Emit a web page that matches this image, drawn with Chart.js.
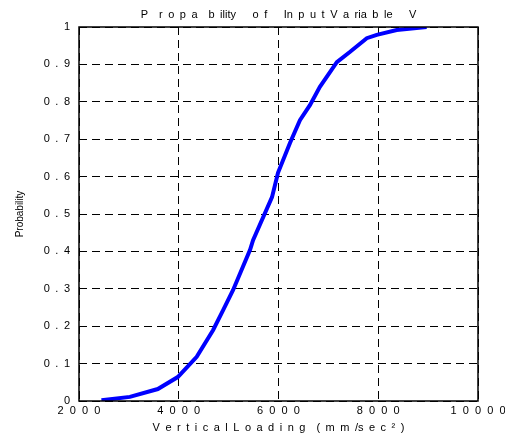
<!DOCTYPE html>
<html>
<head>
<meta charset="utf-8">
<title>Propability of Input Variable V</title>
<script src="https://cdn.jsdelivr.net/npm/chart.js@4/dist/chart.umd.min.js"></script>
<style>
    body { margin: 0; background: #fff; }
    canvas { display: block; }
</style>
</head>
<body>
<canvas id="cdfChart" width="505" height="438"></canvas>
<script>
// Data
const loadingValues = [2450, 3020, 3580, 3980, 4360, 4690, 4890, 5090, 5430, 5490, 5870, 5990, 6230, 6430, 6630, 6830, 7170, 7430, 7770, 7970, 8370, 8970];
const probValues    = [0.002, 0.011, 0.032, 0.064, 0.118, 0.19, 0.243, 0.297, 0.404, 0.43, 0.545, 0.61, 0.69, 0.751, 0.791, 0.84, 0.906, 0.933, 0.97, 0.979, 0.992, 1.0];

const xTicks = [2000, 4000, 6000, 8000, 10000];
const yTicks = [0, 0.1, 0.2, 0.3, 0.4, 0.5, 0.6, 0.7, 0.8, 0.9, 1];

// the original export spreads its letters out; '_' marks a wide gap
const EN = '\u2002';
const gap = s => s.replace(/_/g, EN);
const titleText = gap('P__r_o_p_a__b_ility___o_f___In_p_u_t_V_a_ria_b_le___V');
const xTitleText = gap('V_e_r_t_i_c_a_l_L_o_a_d_i_n_g__(_m_m_/s_e_c_\u00b2_)');

const xLabel = v => String(v).split('').join('  ');
const yLabel = v => {
    if (v === 0) return '0';
    if (v === 1) return '1';
    return '0' + EN + '.' + EN + Math.round(v * 10);
};

// solid frame around the plot area
const frameBox = {
    id: 'frameBox',
    afterDraw(chart) {
        const { ctx, chartArea: a } = chart;
        ctx.save();
        ctx.strokeStyle = '#000';
        ctx.lineWidth = 1.5;
        ctx.strokeRect(a.left, a.top, a.right - a.left, a.bottom - a.top);
        ctx.restore();
    }
};

const points = loadingValues.map((x, i) => ({ x: x, y: probValues[i] }));
const font11 = { family: 'Liberation Sans, Arial', size: 11 };

const ctx = document.getElementById('cdfChart').getContext('2d');
new Chart(ctx, {
    type: 'line',
    data: {
        datasets: [{
            data: points,
            borderColor: '#0000ff',
            borderWidth: 4,
            pointRadius: 0,
            tension: 0,
            fill: false
        }]
    },
    options: {
        responsive: false,
        animation: false,
        layout: { padding: { left: 0, right: 27, top: 0, bottom: 0 } },
        plugins: {
            legend: { display: false },
            tooltip: { enabled: false },
            title: {
                display: true,
                fullSize: false,
                text: titleText,
                color: '#000',
                font: { family: 'Liberation Sans, Arial', size: 11, weight: 'normal' },
                padding: { top: 8, bottom: 5.8 }
            }
        },
        scales: {
            x: {
                type: 'linear',
                min: 2000,
                max: 10000,
                afterBuildTicks: s => { s.ticks = xTicks.map(v => ({ value: v })); },
                afterFit: s => {
                    s.height = 37;
                    // let the last tick label hang past the frame like the original
                    s.paddingLeft = 0;
                    s.paddingRight = 0;
                },
                ticks: {
                    color: '#000',
                    font: font11,
                    padding: 3,
                    maxRotation: 0,
                    autoSkip: false,
                    callback: v => xLabel(v)
                },
                grid: { color: '#000', lineWidth: 1, drawTicks: false },
                border: { display: false, dash: [8, 5] },
                title: {
                    display: true,
                    text: xTitleText,
                    color: '#000',
                    font: font11,
                    padding: { top: 0, bottom: 3 }
                }
            },
            y: {
                min: 0,
                max: 1,
                afterBuildTicks: s => { s.ticks = yTicks.map(v => ({ value: v })); },
                afterFit: s => {
                    s.width = 79;
                    s.paddingTop = 0;
                    s.paddingBottom = 0;
                },
                ticks: {
                    color: '#000',
                    font: font11,
                    padding: 9,
                    autoSkip: false,
                    callback: v => yLabel(v)
                },
                grid: { color: '#000', lineWidth: 1, drawTicks: false },
                border: { display: false, dash: [8, 5] },
                title: {
                    display: true,
                    text: 'Probability',
                    color: '#000',
                    font: { family: 'Liberation Sans, Arial', size: 10 },
                    padding: { top: 14, bottom: 0 }
                }
            }
        }
    },
    plugins: [frameBox]
});
</script>
</body>
</html>
